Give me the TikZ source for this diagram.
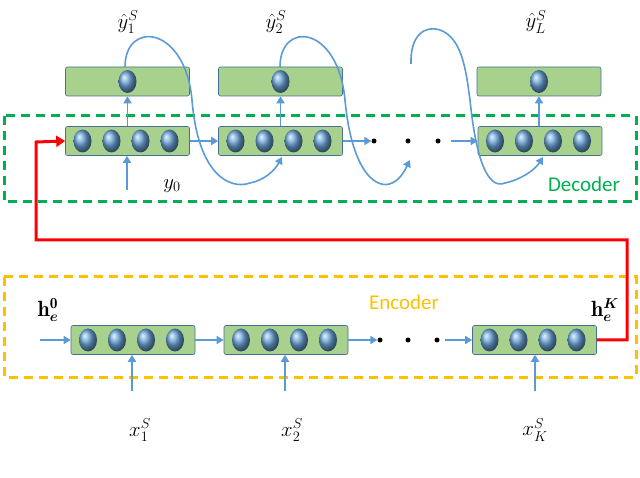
\documentclass[tikz,border=0pt]{standalone}
\usepackage{amsmath}
\usepackage{fontspec}
\newfontfamily\calfnt{Carlito}
\usetikzlibrary{arrows.meta,shapes.geometric}
\definecolor{dgreen}{RGB}{0,176,80}
\definecolor{dyellow}{RGB}{255,192,0}
\definecolor{lblue}{RGB}{91,155,213}
\definecolor{cfill}{RGB}{169,209,142}
\definecolor{cdraw}{RGB}{70,110,150}
\begin{document}
\begin{tikzpicture}[x=1pt,y=-1pt,
 cell/.style={draw=cdraw,fill=cfill,rounded corners=2pt,minimum width=124pt,minimum height=29pt,inner sep=0pt,line width=0.6pt},
 ball/.style={ellipse,minimum width=18pt,minimum height=23pt,inner sep=0pt,ball color=lblue!90!white,draw=none},
 arr/.style={draw=lblue,line width=1.8pt,-{Triangle[length=7pt,width=8pt]}},
 curve/.style={draw=lblue,line width=1.6pt},
 dot/.style={circle,fill=black,inner sep=0pt,minimum size=5pt},
 lab/.style={font=\fontsize{22}{26}\selectfont},
 tt/.style={font=\calfnt\fontsize{21}{24}\selectfont}]
\useasboundingbox (0,0) rectangle (640,478);
% dashed boxes
\draw[dgreen,line width=3pt,dash pattern=on 9pt off 6pt] (4,116) rectangle (636,202);
\draw[dyellow,line width=3pt,dash pattern=on 9pt off 6pt] (4,277) rectangle (636,377);
\node[tt,text=dgreen] (dec) at (584,184) {Decoder};
\node[tt,text=dyellow] (enc) at (404,302) {Encoder};
% decoder
\node[cell] (o1) at (127.5,81.5) {}; \node[cell] (o2) at (280.5,81.5) {}; \node[cell] (o3) at (539,81.5) {};
\node[cell] (d1) at (127.5,141) {}; \node[cell] (d2) at (280.5,141) {}; \node[cell] (d3) at (540,141) {};
\foreach \c/\n in {127.5/a,280.5/b,539/c}{\node[ball] (ob\n) at (\c,81.5) {};}
\foreach \l/\n in {65.5/a,218.5/b,478/c}{
 \foreach \k in {0,1,2,3}{\node[ball] (db\n\k) at (\l+17+29*\k,141) {};}}
\node[dot] (dd1) at (374,141) {}; \node[dot] (dd2) at (408,141) {}; \node[dot] (dd3) at (438,141) {};
\draw[arr] (d1.east) -- (d2.west);
\draw[arr] (d2.east) -- (dd1.west);
\draw[arr] ([xshift=10pt]dd3.east) -- (d3.west);
\draw[arr] (d1.north -| o1) -- (o1.south);
\draw[arr] (d2.north -| o2) -- (o2.south);
\draw[arr] (d3.north -| o3) -- (o3.south);
\coordinate (y0s) at (127,190);
\draw[arr] (y0s) -- (d1.south -| y0s);
\node[lab] (y0) at (172,186) {$y_0$};
\node[lab] (l1) at (128,22) {$\hat{y}_1^S$};
\node[lab] (l2) at (276,22) {$\hat{y}_2^S$};
\node[lab] (l3) at (536,22) {$\hat{y}_L^S$};
% feedback curves
\coordinate (t1) at (282,157); \coordinate (t2) at (410,160); \coordinate (t3) at (543,157);
\draw[curve,-{Triangle[length=7pt,width=8pt]}] (125,67) .. controls (125,20) and (185,25) .. (192,100)
  .. controls (198,175) and (230,190) .. (250,183) .. controls (265,180) and (275,170) .. (t1);
\draw[curve,-{Triangle[length=7pt,width=8pt]}] (280,67) .. controls (280,20) and (338,25) .. (345,100)
  .. controls (352,175) and (378,190) .. (392,183) .. controls (400,180) and (405,170) .. (t2);
\draw[curve,-{Triangle[length=7pt,width=8pt]}] (411,64) .. controls (410,35) and (425,25) .. (440,30)
  .. controls (462,38) and (466,70) .. (470,100) .. controls (476,160) and (488,190) .. (505,183)
  .. controls (520,180) and (535,170) .. (t3);
% encoder
\node[cell] (e1) at (133,340) {}; \node[cell] (e2) at (286,340) {}; \node[cell] (e3) at (534.5,340) {};
\foreach \l/\n in {71/a,224/b,472.5/c}{
 \foreach \k in {0,1,2,3}{\node[ball] (eb\n\k) at (\l+17+29*\k,340) {};}}
\node[dot] (ed1) at (380,340) {}; \node[dot] (ed2) at (408,340) {}; \node[dot] (ed3) at (437,340) {};
\coordinate (h0s) at (40,340);
\draw[arr] (h0s) -- (e1.west);
\draw[arr] (e1.east) -- (e2.west);
\draw[arr] (e2.east) -- (ed1.west);
\draw[arr] ([xshift=5pt]ed3.east) -- (e3.west);
\foreach \x/\n in {132/1,285/2,535/3}{\coordinate (xs\n) at (\x,391); \draw[arr] (xs\n) -- (e\n.south -| xs\n);}
\node[lab] (x1) at (140,430) {$x_1^S$};
\node[lab] (x2) at (292,430) {$x_2^S$};
\node[lab] (x3) at (535,430) {$x_K^S$};
\node[lab] (h0) at (48,310) {$\mathbf{h}_{\boldsymbol{e}}^{\mathbf{0}}$};
\node[lab] (hK) at (605,310) {$\mathbf{h}_{\boldsymbol{e}}^{\boldsymbol{K}}$};
% red link
\draw[red,line width=3pt,-{Triangle[length=9pt,width=11pt]}] (e3.east) -| (627,240) -| (36,142) -- (d1.west);
\end{tikzpicture}
\end{document}
